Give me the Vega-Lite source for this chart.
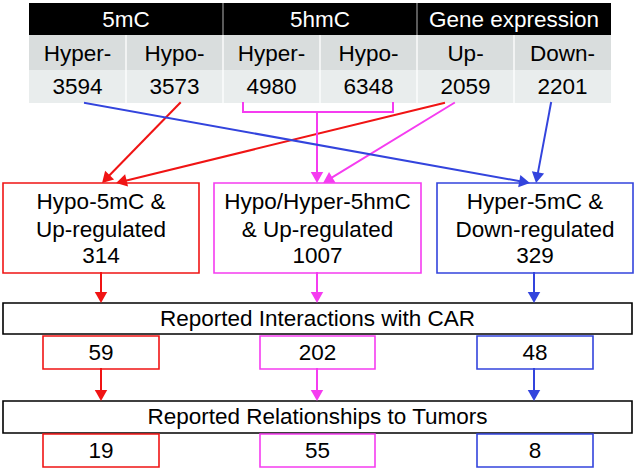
{
  "$schema": "https://vega.github.io/schema/vega-lite/v6.json",
  "width": 636,
  "height": 470,
  "padding": 0,
  "autosize": {"type": "fit", "contains": "padding"},
  "background": "#ffffff",
  "config": {"view": {"stroke": null}},
  "layer": [
    {
      "data": {"values": [
        {"x1": 29, "x2": 223, "y1": 3, "y2": 35, "kind": "h"},
        {"x1": 223, "x2": 417, "y1": 3, "y2": 35, "kind": "h"},
        {"x1": 417, "x2": 611, "y1": 3, "y2": 35, "kind": "h"},
        {"x1": 29, "x2": 611, "y1": 35, "y2": 70, "kind": "s"},
        {"x1": 29, "x2": 611, "y1": 70, "y2": 103, "kind": "v"}
      ]},
      "mark": {"type": "rect"},
      "encoding": {
        "x": {"field": "x1", "type": "quantitative", "axis": null, "scale": {"domain": [0, 636], "nice": false, "zero": false}},
        "x2": {"field": "x2"},
        "y": {"field": "y1", "type": "quantitative", "axis": null, "scale": {"domain": [0, 470], "nice": false, "zero": false, "reverse": true}},
        "y2": {"field": "y2"},
        "fill": {"field": "kind", "type": "nominal", "legend": null, "scale": {"domain": ["h", "s", "v"], "range": ["#000000", "#d9dddd", "#e9eded"]}}
      }
    },
    {
      "data": {"values": [
        {"x": 223, "y": 3, "y2": 35, "k": "gray"},
        {"x": 417, "y": 3, "y2": 35, "k": "gray"},
        {"x": 126, "y": 35, "y2": 103, "k": "white"},
        {"x": 223, "y": 35, "y2": 103, "k": "white"},
        {"x": 320, "y": 35, "y2": 103, "k": "white"},
        {"x": 417, "y": 35, "y2": 103, "k": "white"},
        {"x": 514, "y": 35, "y2": 103, "k": "white"}
      ]},
      "mark": {"type": "rule", "strokeWidth": 1.3},
      "encoding": {
        "x": {"field": "x", "type": "quantitative", "axis": null},
        "y": {"field": "y", "type": "quantitative", "axis": null},
        "y2": {"field": "y2"},
        "stroke": {"field": "k", "type": "nominal", "legend": null, "scale": {"domain": ["red", "pink", "blue", "black", "white", "gray"], "range": ["#f01414", "#f53cf0", "#3344dd", "#000000", "#ffffff", "#8a8a8a"]}}
      }
    },
    {
      "data": {"values": [
        {"x1": 3, "x2": 199, "y1": 183, "y2": 273, "c": "red"},
        {"x1": 214, "x2": 421, "y1": 183, "y2": 273, "c": "pink"},
        {"x1": 437, "x2": 633, "y1": 183, "y2": 273, "c": "blue"},
        {"x1": 3, "x2": 632, "y1": 303, "y2": 334, "c": "black"},
        {"x1": 3, "x2": 632, "y1": 401, "y2": 433, "c": "black"},
        {"x1": 43, "x2": 159, "y1": 336, "y2": 369, "c": "red"},
        {"x1": 260, "x2": 375, "y1": 336, "y2": 369, "c": "pink"},
        {"x1": 477, "x2": 593, "y1": 336, "y2": 369, "c": "blue"},
        {"x1": 43, "x2": 159, "y1": 434, "y2": 467, "c": "red"},
        {"x1": 260, "x2": 375, "y1": 434, "y2": 467, "c": "pink"},
        {"x1": 477, "x2": 593, "y1": 434, "y2": 467, "c": "blue"}
      ]},
      "mark": {"type": "rect", "fill": "#ffffff", "strokeWidth": 1.6},
      "encoding": {
        "x": {"field": "x1", "type": "quantitative", "axis": null},
        "x2": {"field": "x2"},
        "y": {"field": "y1", "type": "quantitative", "axis": null},
        "y2": {"field": "y2"},
        "stroke": {"field": "c", "type": "nominal", "legend": null, "scale": {"domain": ["red", "pink", "blue", "black", "white", "gray"], "range": ["#f01414", "#f53cf0", "#3344dd", "#000000", "#ffffff", "#8a8a8a"]}}
      }
    },
    {
      "data": {"name": "lines", "values": [
        {"x": 180, "y": 103, "x2": 102, "y2": 183, "c": "red", "head": 1},
        {"x": 444, "y": 103, "x2": 116, "y2": 183, "c": "red", "head": 1},
        {"x": 243, "y": 103, "x2": 243, "y2": 112, "c": "pink", "head": 0},
        {"x": 243, "y": 112, "x2": 393, "y2": 112, "c": "pink", "head": 0},
        {"x": 393, "y": 112, "x2": 393, "y2": 103, "c": "pink", "head": 0},
        {"x": 317, "y": 112, "x2": 317, "y2": 183, "c": "pink", "head": 1},
        {"x": 454, "y": 103, "x2": 323, "y2": 183, "c": "pink", "head": 1},
        {"x": 85, "y": 103, "x2": 530, "y2": 183, "c": "blue", "head": 1},
        {"x": 551, "y": 103, "x2": 536, "y2": 183, "c": "blue", "head": 1},
        {"x": 101, "y": 273, "x2": 101, "y2": 303, "c": "red", "head": 1},
        {"x": 317, "y": 273, "x2": 317, "y2": 303, "c": "pink", "head": 1},
        {"x": 534, "y": 273, "x2": 534, "y2": 303, "c": "blue", "head": 1},
        {"x": 101, "y": 369, "x2": 101, "y2": 401, "c": "red", "head": 1},
        {"x": 317, "y": 369, "x2": 317, "y2": 401, "c": "pink", "head": 1},
        {"x": 534, "y": 369, "x2": 534, "y2": 401, "c": "blue", "head": 1}
      ]},
      "transform": [
        {"calculate": "datum.x2 - datum.x", "as": "dx"},
        {"calculate": "datum.y2 - datum.y", "as": "dy"},
        {"calculate": "sqrt(datum.dx * datum.dx + datum.dy * datum.dy)", "as": "len"},
        {"calculate": "datum.head == 1 ? datum.x2 - 5.5 * datum.dx / datum.len : datum.x2", "as": "ex"},
        {"calculate": "datum.head == 1 ? datum.y2 - 5.5 * datum.dy / datum.len : datum.y2", "as": "ey"}
      ],
      "mark": {"type": "rule", "strokeWidth": 2, "strokeCap": "square"},
      "encoding": {
        "x": {"field": "x", "type": "quantitative", "axis": null},
        "y": {"field": "y", "type": "quantitative", "axis": null},
        "x2": {"field": "ex"},
        "y2": {"field": "ey"},
        "stroke": {"field": "c", "type": "nominal", "legend": null, "scale": {"domain": ["red", "pink", "blue", "black", "white", "gray"], "range": ["#f01414", "#f53cf0", "#3344dd", "#000000", "#ffffff", "#8a8a8a"]}}
      }
    },
    {
      "data": {"name": "lines"},
      "transform": [
        {"filter": "datum.head == 1"},
        {"calculate": "datum.x2 - datum.x", "as": "dx"},
        {"calculate": "datum.y2 - datum.y", "as": "dy"},
        {"calculate": "sqrt(datum.dx * datum.dx + datum.dy * datum.dy)", "as": "len"},
        {"calculate": "atan2(datum.dx, -datum.dy) * 180 / PI", "as": "ang"},
        {"calculate": "datum.x2 - 5.5 * datum.dx / datum.len", "as": "hx"},
        {"calculate": "datum.y2 - 5.5 * datum.dy / datum.len", "as": "hy"}
      ],
      "mark": {"type": "point", "shape": "triangle-up", "filled": true, "opacity": 1, "size": 155, "strokeWidth": 0},
      "encoding": {
        "x": {"field": "hx", "type": "quantitative", "axis": null},
        "y": {"field": "hy", "type": "quantitative", "axis": null},
        "angle": {"field": "ang", "type": "quantitative", "scale": null},
        "color": {"field": "c", "type": "nominal", "legend": null, "scale": {"domain": ["red", "pink", "blue", "black", "white", "gray"], "range": ["#f01414", "#f53cf0", "#3344dd", "#000000", "#ffffff", "#8a8a8a"]}}
      }
    },
    {
      "data": {"values": [
        {"x": 126, "y": 27, "t": "5mC", "tc": "white"},
        {"x": 320, "y": 27, "t": "5hmC", "tc": "white"},
        {"x": 514, "y": 27, "t": "Gene expression", "tc": "white"},
        {"x": 77.5, "y": 61, "t": "Hyper-", "tc": "black"},
        {"x": 174.5, "y": 61, "t": "Hypo-", "tc": "black"},
        {"x": 271.5, "y": 61, "t": "Hyper-", "tc": "black"},
        {"x": 368.5, "y": 61, "t": "Hypo-", "tc": "black"},
        {"x": 465.5, "y": 61, "t": "Up-", "tc": "black"},
        {"x": 562.5, "y": 61, "t": "Down-", "tc": "black"},
        {"x": 77.5, "y": 94, "t": "3594", "tc": "black"},
        {"x": 174.5, "y": 94, "t": "3573", "tc": "black"},
        {"x": 271.5, "y": 94, "t": "4980", "tc": "black"},
        {"x": 368.5, "y": 94, "t": "6348", "tc": "black"},
        {"x": 465.5, "y": 94, "t": "2059", "tc": "black"},
        {"x": 562.5, "y": 94, "t": "2201", "tc": "black"},
        {"x": 101, "y": 209, "t": "Hypo-5mC &", "tc": "black"},
        {"x": 101, "y": 237, "t": "Up-regulated", "tc": "black"},
        {"x": 101, "y": 263, "t": "314", "tc": "black"},
        {"x": 317.5, "y": 209, "t": "Hypo/Hyper-5hmC", "tc": "black"},
        {"x": 317.5, "y": 237, "t": "& Up-regulated", "tc": "black"},
        {"x": 317.5, "y": 263, "t": "1007", "tc": "black"},
        {"x": 535, "y": 209, "t": "Hyper-5mC &", "tc": "black"},
        {"x": 535, "y": 237, "t": "Down-regulated", "tc": "black"},
        {"x": 535, "y": 263, "t": "329", "tc": "black"},
        {"x": 317.5, "y": 326, "t": "Reported Interactions with CAR", "tc": "black"},
        {"x": 317.5, "y": 424, "t": "Reported Relationships to Tumors", "tc": "black"},
        {"x": 101, "y": 360, "t": "59", "tc": "black"},
        {"x": 317.5, "y": 360, "t": "202", "tc": "black"},
        {"x": 535, "y": 360, "t": "48", "tc": "black"},
        {"x": 101, "y": 458, "t": "19", "tc": "black"},
        {"x": 317.5, "y": 458, "t": "55", "tc": "black"},
        {"x": 535, "y": 458, "t": "8", "tc": "black"}
      ]},
      "mark": {"type": "text", "font": "Liberation Sans", "fontSize": 22.5, "align": "center", "baseline": "alphabetic"},
      "encoding": {
        "x": {"field": "x", "type": "quantitative", "axis": null},
        "y": {"field": "y", "type": "quantitative", "axis": null},
        "text": {"field": "t"},
        "color": {"field": "tc", "type": "nominal", "legend": null, "scale": {"domain": ["red", "pink", "blue", "black", "white", "gray"], "range": ["#f01414", "#f53cf0", "#3344dd", "#000000", "#ffffff", "#8a8a8a"]}}
      }
    }
  ]
}
